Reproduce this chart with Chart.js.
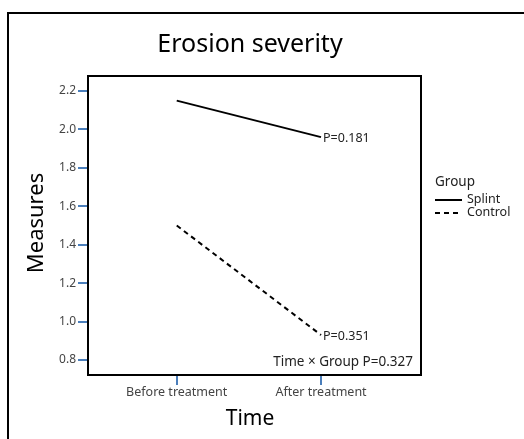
<!DOCTYPE html>
<html>
<head>
<meta charset="utf-8">
<script src="https://cdn.jsdelivr.net/npm/chart.js@4.4.0/dist/chart.umd.min.js"></script>
<style>
  html, body { margin: 0; padding: 0; background: #fff; }
  #wrap { width: 524px; height: 439px; position: relative; }
</style>
</head>
<body>
<div id="wrap"><canvas id="c" width="524" height="439"></canvas></div>
<script>
// Time points and group means
const timeLabels = ['Before treatment', 'After treatment'];
const splintValues = [2.15, 1.96];
const controlValues = [1.50, 0.93];
const yTicks = [0.8, 1.0, 1.2, 1.4, 1.6, 1.8, 2.0, 2.2];
const pLabels = ['P=0.181', 'P=0.351'];
const interactionLabel = 'Time \u00d7 Group P=0.327';

const FONT = '"Noto Sans", "DejaVu Sans", sans-serif';
const TICK_BLUE = '#4a7ebb';

const toXY = vals => vals.map((v, i) => ({ x: i, y: v }));

// Frame, titles, legend and P-value notes
const decor = {
  id: 'decor',
  afterDraw(chart) {
    const ctx = chart.ctx;
    const a = chart.chartArea;
    const xs = chart.scales.x, ys = chart.scales.y;
    ctx.save();
    // outer frame
    ctx.strokeStyle = '#000';
    ctx.lineWidth = 2;
    ctx.beginPath();
    ctx.moveTo(8, 439);
    ctx.lineTo(8, 13);
    ctx.lineTo(524, 13);
    ctx.stroke();
    // plot box
    ctx.strokeRect(a.left, a.top, a.right - a.left, a.bottom - a.top);

    // chart title
    ctx.fillStyle = '#000';
    ctx.textAlign = 'center';
    ctx.textBaseline = 'middle';
    ctx.font = '25px ' + FONT;
    ctx.fillText('Erosion severity', 250, 45);
    // axis titles
    ctx.font = '21px ' + FONT;
    ctx.fillText('Time', 250, 419);
    ctx.save();
    ctx.translate(37, 223);
    ctx.rotate(-Math.PI / 2);
    ctx.font = '22px ' + FONT;
    ctx.fillText('Measures', 0, 0);
    ctx.restore();

    // P-value notes beside the end points
    ctx.font = '12.5px ' + FONT;
    ctx.fillStyle = '#222';
    ctx.textAlign = 'left';
    const xe = xs.getPixelForValue(1);
    ctx.fillText(pLabels[0], xe + 2, ys.getPixelForValue(splintValues[1]) + 1);
    ctx.fillText(pLabels[1], xe + 2, ys.getPixelForValue(controlValues[1]) + 1);
    ctx.textAlign = 'right';
    ctx.font = '13.5px ' + FONT;
    ctx.fillText(interactionLabel, a.right - 8, 362);

    // legend
    ctx.textAlign = 'left';
    ctx.fillStyle = '#222';
    ctx.font = '13.5px ' + FONT;
    ctx.fillText('Group', 435, 182);
    ctx.font = '12.5px ' + FONT;
    ctx.fillText('Splint', 467, 199);
    ctx.fillText('Control', 467, 212);
    ctx.strokeStyle = '#000';
    ctx.lineWidth = 2;
    ctx.beginPath();
    ctx.moveTo(435, 200); ctx.lineTo(462, 200);
    ctx.stroke();
    ctx.setLineDash([5, 4]);
    ctx.beginPath();
    ctx.moveTo(435, 213); ctx.lineTo(462, 213);
    ctx.stroke();
    ctx.restore();
  }
};

new Chart(document.getElementById('c'), {
  type: 'line',
  data: {
    datasets: [
      {
        label: 'Splint',
        data: toXY(splintValues),
        borderColor: '#000',
        borderWidth: 2,
        pointRadius: 0,
        tension: 0
      },
      {
        label: 'Control',
        data: toXY(controlValues),
        borderColor: '#000',
        borderWidth: 2,
        borderDash: [5, 4],
        pointRadius: 0,
        tension: 0
      }
    ]
  },
  options: {
    responsive: false,
    animation: false,
    events: [],
    layout: { padding: { left: 0, top: 76, right: 103, bottom: 0 } },
    plugins: {
      legend: { display: false },
      title: { display: false },
      tooltip: { enabled: false }
    },
    scales: {
      x: {
        type: 'linear',
        min: -0.615,
        max: 1.693,
        afterFit(s) { s.height = 64; },
        afterBuildTicks(s) { s.ticks = timeLabels.map((_, i) => ({ value: i })); },
        grid: {
          drawOnChartArea: false,
          color: TICK_BLUE,
          lineWidth: 2,
          tickLength: 10
        },
        border: { display: false },
        ticks: {
          color: '#444',
          padding: 0,
          font: { family: FONT, size: 12.5 },
          maxRotation: 0,
          autoSkip: false,
          callback: v => timeLabels[v]
        }
      },
      y: {
        min: 0.722,
        max: 2.278,
        afterFit(s) { s.width = 88; },
        afterBuildTicks(s) { s.ticks = yTicks.map(v => ({ value: v })); },
        grid: {
          drawOnChartArea: false,
          color: TICK_BLUE,
          lineWidth: 2,
          tickLength: 10
        },
        border: { display: false },
        ticks: {
          color: '#444',
          padding: 2,
          font: { family: FONT, size: 12 },
          callback: v => v.toFixed(1)
        }
      }
    }
  },
  plugins: [decor]
});
</script>
</body>
</html>
